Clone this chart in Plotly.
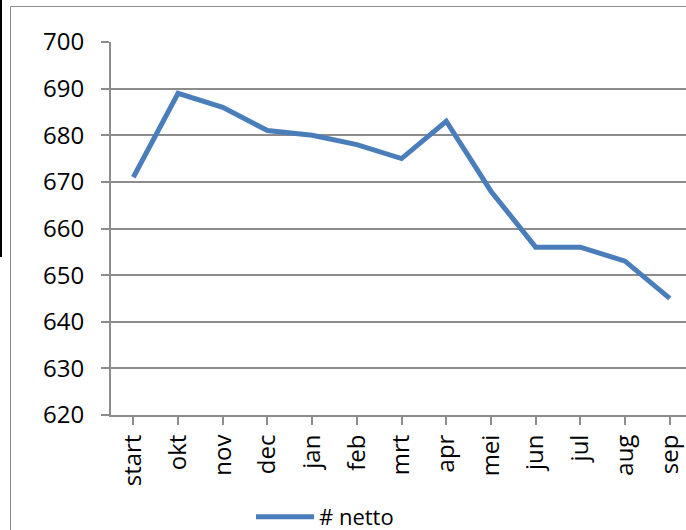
import plotly.graph_objects as go

months = ["start", "okt", "nov", "dec", "jan", "feb", "mrt", "apr", "mei", "jun", "jul", "aug", "sep"]
netto = [671, 689, 686, 681, 680, 678, 675, 683, 668, 656, 656, 653, 645]
y_ticks = [620, 630, 640, 650, 660, 670, 680, 690, 700]

W, H = 686, 530
L, R, T, B = 111, 686, 42, 415
pw, ph = R - L, B - T

def px(x):
    return (x - L) / pw

def py(y):
    return (B - y) / ph

grey = "#8c8c8c"
fnt = dict(family="Open Sans", size=24, color="black")

fig = go.Figure()
fig.add_trace(go.Scatter(
    x=list(range(len(months))), y=netto, mode="lines", name="# netto",
    line=dict(color="#4a7ebb", width=5),
))

fig.update_layout(
    width=W, height=H,
    margin=dict(l=L, r=W - R, t=T, b=H - B, autoexpand=False),
    paper_bgcolor="white", plot_bgcolor="white",
    showlegend=True,
    legend=dict(orientation="h", x=px(251), y=py(517), xanchor="left", yanchor="middle",
                font=dict(family="Open Sans", size=22, color="black"),
                itemwidth=58, tracegroupgap=0, borderwidth=0),
    shapes=[
        dict(type="rect", xref="paper", yref="paper",
             x0=px(10.5), x1=px(720), y0=py(6.5), y1=py(560),
             line=dict(color=grey, width=1), fillcolor="rgba(0,0,0,0)", layer="below"),
        dict(type="line", xref="paper", yref="paper",
             x0=px(1), x1=px(1), y0=py(0), y1=py(257),
             line=dict(color="black", width=2)),
    ],
)

fig.update_xaxes(
    range=[-0.5, -0.5 + pw / 44.7], automargin=False,
    tickmode="array", tickvals=list(range(len(months))), ticktext=months,
    tickangle=-90, tickson="boundaries", ticks="outside", ticklen=8, tickcolor=grey, tickwidth=2,
    showline=True, linecolor=grey, linewidth=2, showgrid=False, zeroline=False,
    tickfont=fnt,
)
fig.update_yaxes(
    range=[620, 700], tickmode="array", tickvals=y_ticks, automargin=False,
    ticks="outside", ticklen=8, tickcolor=grey, tickwidth=2,
    showline=True, linecolor=grey, linewidth=2,
    showgrid=True, gridcolor=grey, gridwidth=2, zeroline=False,
    tickfont=fnt, ticklabelstandoff=12,
)

fig.write_html("out.html", config={"displayModeBar": False},
               post_script="document.body.style.margin='0';document.body.style.overflow='hidden';")
